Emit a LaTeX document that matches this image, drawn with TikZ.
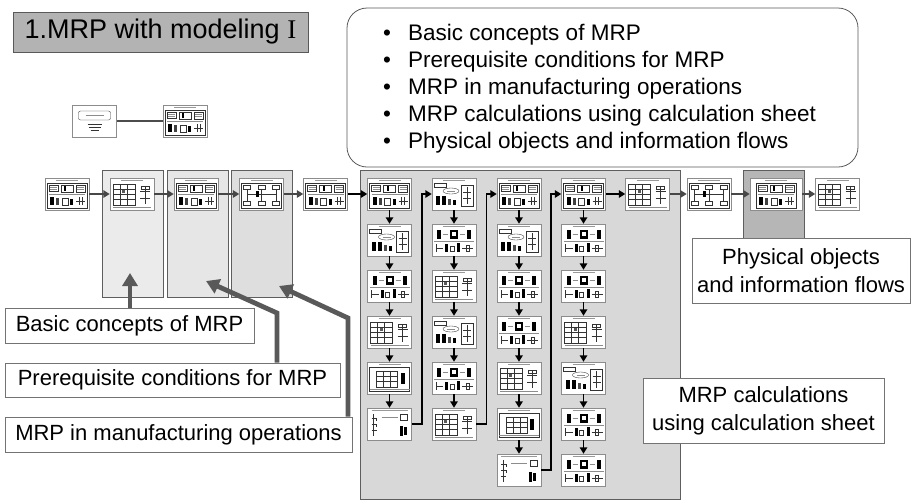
\documentclass[tikz,border=0pt]{standalone}
\usepackage{fontspec}
\setmainfont{Liberation Sans}
\newfontfamily\romanfont{Liberation Serif}
\usetikzlibrary{arrows.meta,calc}

\definecolor{panelA}{HTML}{EBEBEB}
\definecolor{panelB}{HTML}{E6E6E6}
\definecolor{panelC}{HTML}{DEDEDE}
\definecolor{panelBig}{HTML}{D8D8D8}
\definecolor{panelDark}{HTML}{B6B6B6}
\definecolor{titlegray}{HTML}{B3B3B3}
\definecolor{framegray}{HTML}{5E5E5E}
\definecolor{arrowgray}{HTML}{595959}

\tikzset{
  sl/.style={line width=0.35pt,draw=black!80},
  slg/.style={line width=0.35pt,draw=black!45},
  hdr/.style={line width=1.1pt,draw=black!40},
}

% miniature slide contents, drawn around the centre of a thumbnail node
\newcommand\slideF[1]{\begin{scope}[shift={(#1.center)}]
  \draw[hdr] (-11,-13.5) -- (11,-13.5);
  \draw[sl] (-20,-11) rectangle (20,14);
  \draw[sl] (-18,-9) rectangle (-9,-3);
  \draw[slg] (-17,-7) -- (-10,-7) (-17,-5) -- (-10,-5);
  \draw[sl] (-6,-9) rectangle (6,-2);
  \fill (-3,-8) rectangle (-1,-3);
  \draw[sl] (9,-9) rectangle (18,-2);
  \draw[slg] (10,-7) -- (17,-7) (10,-5) -- (17,-5);
  \draw[slg] (-18,0.5) -- (18,0.5);
  \fill (-17,3) rectangle (-13,11);
  \fill[black!75] (-11,4) rectangle (-8,11);
  \draw[sl] (-5,4) rectangle (1,11);
  \fill (3,5) rectangle (6,11);
  \draw[sl] (12,3) -- (12,11) (9,7) -- (18,7) (15,3) -- (15,11);
\end{scope}}

\newcommand\slideM[1]{\begin{scope}[shift={(#1.center)}]
  \draw[hdr] (-11,-13.5) -- (11,-13.5);
  \fill (-17,-10) rectangle (-13,-1);
  \fill (-4,-10) rectangle (4,-1);
  \fill[white] (-2,-8) rectangle (2,-4);
  \fill (13,-10) rectangle (17,-1);
  \draw[slg] (-11,-6) -- (-6,-6) (6,-6) -- (11,-6);
  \draw[slg,line width=0.9pt] (-20,1.5) -- (20,1.5);
  \draw[sl] (-18,4) -- (-18,12) (-18,8) -- (-11,8);
  \fill (-9,4) rectangle (-6,12);
  \draw[sl] (-4,6) rectangle (0,11);
  \fill (3,3) rectangle (6,12);
  \draw[sl] (8,8) -- (19,8) (12,5) rectangle (15,11);
\end{scope}}

\newcommand\slideC[1]{\begin{scope}[shift={(#1.center)}]
  \draw[hdr] (-11,-13.5) -- (11,-13.5);
  \draw[sl] (-20,-11) rectangle (-8,-7);
  \draw[sl] (-3,-3) ellipse [x radius=8, y radius=3];
  \draw[slg] (-7,-3) -- (1,-3);
  \fill (-18,2) rectangle (-14,11);
  \fill (-12,2) rectangle (-8,11);
  \fill[black!70] (-6,5) rectangle (-3,11);
  \fill (-1,6) rectangle (2,11);
  \draw[sl] (7,-9) rectangle (19,12);
  \draw[sl] (13,-7) -- (13,10) (9,-2) -- (17,-2) (9,4) -- (17,4);
\end{scope}}

\newcommand\slideT[1]{\begin{scope}[shift={(#1.center)}]
  \draw[hdr] (-11,-13.5) -- (11,-13.5);
  \draw[sl] (-19,-10) rectangle (3,11);
  \draw[sl] (-12,-10) -- (-12,11) (-5,-10) -- (-5,11) (-19,-5) -- (3,-5) (-19,0) -- (3,0) (-19,5) -- (3,5);
  \fill[black!65] (-10,-4) rectangle (-7,-1);
  \draw[sl] (13,-8) -- (13,10) (8,-3) -- (18,-3) (8,4) -- (18,4);
  \draw[sl] (9,-8) rectangle (17,-5);
  \draw[slg,line width=0.9pt] (-19,13.5) -- (19,13.5);
\end{scope}}

\newcommand\slideG[1]{\begin{scope}[shift={(#1.center)}]
  \draw[hdr] (-11,-13.5) -- (11,-13.5);
  \draw[sl] (-20,-11) rectangle (20,13);
  \draw[sl] (-13,-7) rectangle (8,9);
  \draw[sl] (-6,-7) -- (-6,9) (1,-7) -- (1,9) (-13,-2) -- (8,-2) (-13,3) -- (8,3);
  \fill (11,-5) rectangle (15,6);
  \draw[slg,line width=0.9pt] (-20,11) -- (20,11);
\end{scope}}

\newcommand\slideS[1]{\begin{scope}[shift={(#1.center)}]
  \draw[hdr] (-18,-13.5) -- (18,-13.5);
  \draw[sl] (-16,-10) -- (-16,12) (-18,-6) -- (-13,-6) (-18,0) -- (-13,0) (-18,6) -- (-13,6) (-13,-6) -- (-13,-3) (-13,0) -- (-13,3);
  \draw[slg,line width=0.7pt] (-8,-7) -- (8,-7);
  \draw[sl] (11,-10) rectangle (18,-4);
  \fill (10,2) rectangle (13,12);
  \fill (14,3) rectangle (17,11);
\end{scope}}

\newcommand\slideW[1]{\begin{scope}[shift={(#1.center)}]
  \draw[hdr] (-11,-13.5) -- (11,-13.5);
  \draw[sl] (-20,-11) rectangle (20,14);
  \foreach \u in {-14.5,0,14.5}{
    \draw[sl] (\u-3.5,-9) rectangle (\u+3.5,-5);
    \draw[sl] (\u,-5) -- (\u,7);
    \draw[sl] (\u-3.5,7) rectangle (\u+3.5,11);
  }
  \draw[sl] (-14.5,0) -- (14.5,0);
  \fill (-6,-3) rectangle (-3,3);
\end{scope}}

\newcommand\slideI[1]{\begin{scope}[shift={(#1.center)}]
  \draw[sl,rounded corners=2pt] (-16,-10) rectangle (16,-1);
  \draw[slg] (-9,-5.5) -- (9,-5.5);
  \draw[sl] (-7,3) -- (7,3) (-6,6) -- (6,6) (-4,9) -- (4,9);
\end{scope}}

\begin{document}
\begin{tikzpicture}[x=1pt,y=-1pt,
  thumb/.style={draw=black!45,fill=white,line width=0.5pt,minimum width=44pt,minimum height=32pt,inner sep=0pt},
  panel/.style={draw=framegray,line width=0.8pt},
  link/.style={line width=1.8pt,-{Triangle[length=6.5pt,width=7.5pt]}},
  callout/.style={draw=arrowgray,line width=4.8pt,-{Triangle[length=13pt,width=15pt]}},
  lbl/.style={draw=black!55,fill=white,line width=0.8pt,font=\fontsize{22}{28}\selectfont,inner sep=0pt,align=center},
  topicfont/.style={font=\fontsize{22.5}{27}\selectfont,inner sep=0pt},
]
\useasboundingbox (0,0) rectangle (913,501);

% background panels grouping the slides
\draw[panel,fill=panelA] (102,170) rectangle (163,297);
\draw[panel,fill=panelB] (167,170) rectangle (228,297);
\draw[panel,fill=panelC] (231,170) rectangle (292,297);
\draw[panel,fill=panelBig] (360,170) rectangle (680,499);
\draw[panel,fill=panelDark] (743,170) rectangle (804,245);

% title
\node[draw=black!65,fill=titlegray,line width=0.8pt,minimum width=295pt,minimum height=40pt,inner sep=0pt,
      font=\fontsize{27}{32}\selectfont] (title) at (160.5,32) {1.MRP with modeling {\romanfont I}};

% list of topics
\node[draw=black!65,line width=0.8pt,rounded corners=20pt,minimum width=511pt,minimum height=159pt] (topics) at (602.5,87.5) {};
\foreach \i/\t in {1/Basic concepts of MRP,2/Prerequisite conditions for MRP,3/MRP in manufacturing operations,4/MRP calculations using calculation sheet,5/Physical objects and information flows}{
  \node[topicfont,anchor=base] (dot\i) at (387,{40+27*(\i-1)}) {\textbullet};
  \node[topicfont,anchor=base west] (topic\i) at (408,{40+27*(\i-1)}) {\t};
}

% slide thumbnails
\node[thumb] (intro) at (94.5,121) {};
\node[thumb] (menu) at (185,121) {};
\foreach \nm/\x in {t0/67,t1/132,t2/196,t3/261.5,t4/325.5,t5/647.5,r1/709,r3/837.5}
  \node[thumb] (\nm) at (\x,194) {};
\node[thumb,minimum width=52pt] (r2) at (776,194) {};
\foreach \cc/\x/\n in {1/389.5/6,2/454/6,3/519/7,4/583.5/7}{
  \foreach \rr in {1,...,\n}{
    \node[thumb] (c\cc r\rr) at (\x,{194+46*(\rr-1)}) {};
  }
}
\foreach \nm/\kind in {intro/I,menu/F,t0/F,t1/T,t2/F,t3/W,t4/F,t5/T,r1/W,r2/F,r3/T,%
  c1r1/F,c1r2/C,c1r3/M,c1r4/T,c1r5/G,c1r6/S,%
  c2r1/C,c2r2/M,c2r3/T,c2r4/C,c2r5/M,c2r6/T,%
  c3r1/F,c3r2/C,c3r3/M,c3r4/M,c3r5/T,c3r6/G,c3r7/S,%
  c4r1/F,c4r2/M,c4r3/M,c4r4/T,c4r5/C,c4r6/M,c4r7/M}{%
  \csname slide\kind\endcsname{\nm}}

% connectors between slides
\draw[black!70,line width=1.6pt] (intro) -- (menu);
\foreach \a/\b in {t0/t1,t1/t2,t2/t3,t3/t4,t5/r1,r1/r2,r2/r3}
  \draw[link,black!72] (\a.east) -- (\b.west);
\draw[link] (t4.east) -- (c1r1.west);
\draw[link] (c4r1.east) -- (t5.west);
\foreach \cc/\n in {1/5,2/5,3/6,4/6}{
  \foreach \rr in {1,...,\n}{
    \pgfmathtruncatemacro\ss{\rr+1}
    \draw[link] (c\cc r\rr.south) -- (c\cc r\ss.north);
  }
}
\draw[link] (c1r6.east) -| ($(c1r6.east)!0.5!(c2r1.west)$) |- (c2r1.west);
\draw[link] (c2r6.east) -| ($(c2r6.east)!0.5!(c3r1.west)$) |- (c3r1.west);
\draw[link] (c3r7.east) -| ($(c3r7.east)!0.5!(c4r1.west)$) |- (c4r1.west);

% labels
\node[lbl,minimum width=249pt,minimum height=35pt] (lbasic) at (129.5,325.5) {Basic concepts of MRP};
\node[lbl,minimum width=335pt,minimum height=34pt] (lprereq) at (172.5,380) {Prerequisite conditions for MRP};
\node[lbl,minimum width=347pt,minimum height=35pt] (lmrp) at (178.5,434.5) {MRP in manufacturing operations};
\node[lbl,minimum width=218pt,minimum height=65pt] (lphys) at (801,270.5) {Physical objects\\and information flows};
\node[lbl,minimum width=241pt,minimum height=65pt] (lcalc) at (763.5,410.5) {MRP calculations\\using calculation sheet};

% callout arrows from the labels to their panels
\coordinate (tipA) at (130,273);
\coordinate (bendB) at (277,313);
\coordinate (tipB) at (206,281);
\coordinate (bendC) at (348,318);
\coordinate (tipC) at (279,286);
\draw[callout] (lbasic.north -| tipA) -- (tipA);
\draw[callout] (lprereq.north -| bendB) -- (bendB) -- (tipB);
\draw[callout] (lmrp.north -| bendC) -- (bendC) -- (tipC);
\end{tikzpicture}
\end{document}
